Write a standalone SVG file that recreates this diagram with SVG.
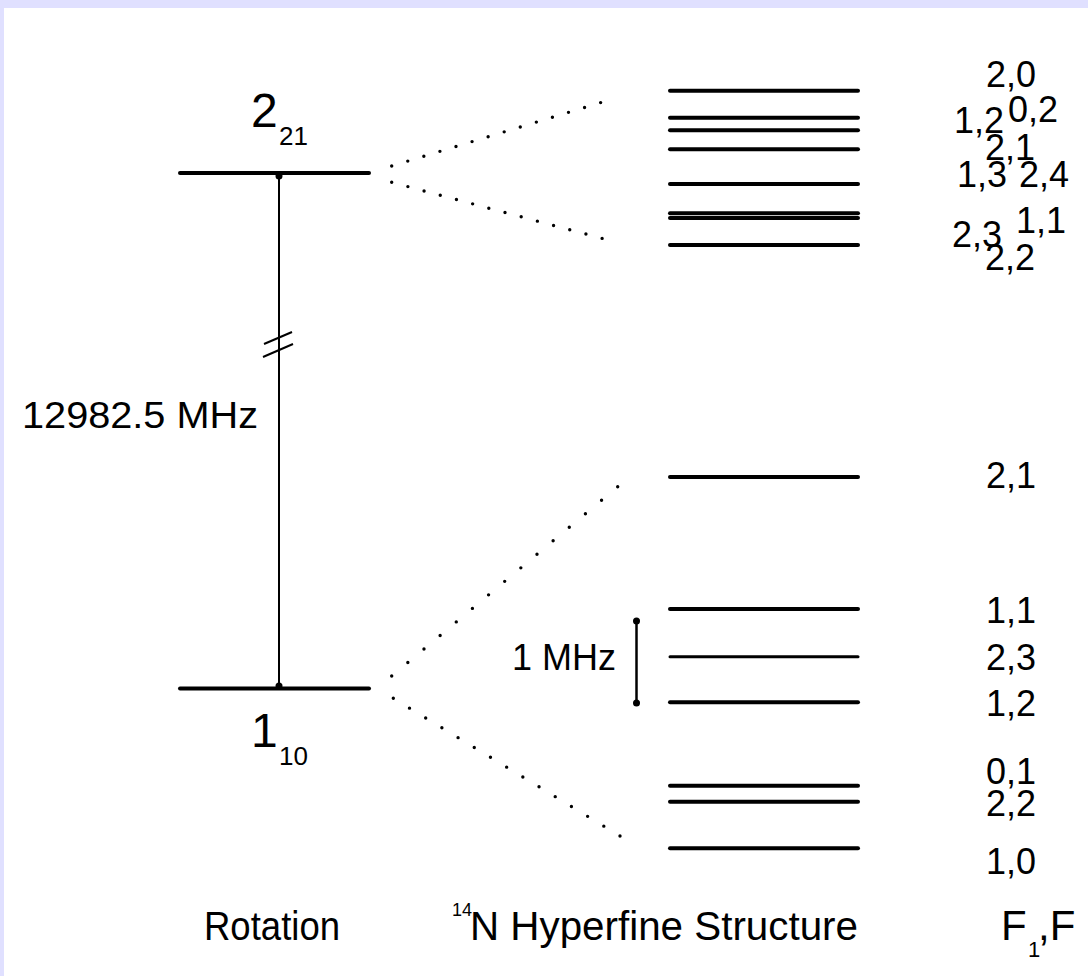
<svg xmlns="http://www.w3.org/2000/svg" width="1088" height="976" viewBox="0 0 1088 976">
<style>
text{font-family:"Liberation Sans",Arial,sans-serif;fill:#000}
.lvl{stroke:#000;stroke-width:4;stroke-linecap:round}
.hf{stroke:#000;stroke-width:4;stroke-linecap:round}
.dot{stroke:#000;stroke-width:3.4;stroke-linecap:round;stroke-dasharray:0 1;fill:none}
.lab{font-size:36px}
.big{font-size:48px}
.sub{font-size:26px}
.cap{font-size:40px}
</style>
<rect x="0" y="0" width="1088" height="976" fill="#E0E0FF"/>
<rect x="4" y="8" width="1084" height="968" fill="#FFFFFF"/>

<g id="rot-upper">
<line class="lvl" x1="180" y1="173" x2="369" y2="173"/>
<text class="big" x="251" y="127">2</text>
<text class="sub" x="279" y="145">21</text>
</g>
<g id="rot-lower">
<line class="lvl" x1="180" y1="688.5" x2="369" y2="688.5"/>
<text class="big" x="251" y="747">1</text>
<text class="sub" x="279" y="765">10</text>
</g>

<g id="connectors">
<line x1="279" y1="176" x2="279" y2="686" stroke="#000" stroke-width="2"/>
<circle cx="279" cy="176" r="3.5"/>
<circle cx="279" cy="686" r="3.5"/>
<line x1="264" y1="344" x2="292" y2="332" stroke="#000" stroke-width="2"/>
<line x1="263" y1="357" x2="293" y2="344" stroke="#000" stroke-width="2"/>
<path class="dot" pathLength="14" d="M391.7,166 L616.7,97.7"/>
<path class="dot" pathLength="14" d="M391.7,182.3 L618.3,242.7"/>
<path class="dot" pathLength="14" d="M391.7,676 L617.7,486.7"/>
<path class="dot" pathLength="14" d="M393.3,698.3 L620,836"/>
<line x1="636.5" y1="621" x2="636.5" y2="703" stroke="#000" stroke-width="2.5"/>
<circle cx="636.5" cy="621" r="3.5"/>
<circle cx="636.5" cy="703" r="3.5"/>
</g>

<g id="freq-label">
<text class="lab" x="22" y="428" textLength="236" lengthAdjust="spacingAndGlyphs">12982.5 MHz</text>
</g>
<g id="mhz-label">
<text class="lab" x="512" y="670">1 MHz</text>
</g>

<g id="hf-upper">
<line class="hf" x1="670" y1="90.7" x2="858" y2="90.7"/>
<line class="hf" x1="670" y1="117.7" x2="858" y2="117.7"/>
<line class="hf" x1="670" y1="130.3" x2="858" y2="130.3"/>
<line class="hf" x1="670" y1="149.3" x2="858" y2="149.3"/>
<line class="hf" x1="670" y1="184" x2="858" y2="184"/>
<line class="hf" x1="670" y1="213.3" x2="858" y2="213.3"/>
<line class="hf" x1="670" y1="217.9" x2="858" y2="217.9"/>
<line class="hf" x1="670" y1="245" x2="858" y2="245"/>
</g>
<g id="hf-lower">
<line class="hf" x1="670" y1="477" x2="858" y2="477"/>
<line class="hf" x1="670" y1="609" x2="858" y2="609"/>
<line class="hf" x1="670" y1="656.7" x2="858" y2="656.7" style="stroke-width:3"/>
<line class="hf" x1="670" y1="702.3" x2="858" y2="702.3"/>
<line class="hf" x1="670" y1="785.7" x2="858" y2="785.7"/>
<line class="hf" x1="670" y1="801.7" x2="858" y2="801.7"/>
<line class="hf" x1="670" y1="848.3" x2="858" y2="848.3"/>
</g>

<g id="labels-upper">
<text class="lab" x="986" y="87">2,0</text>
<text class="lab" x="954" y="133">1,2</text>
<text class="lab" x="1008" y="122">0,2</text>
<text class="lab" x="985" y="160">2,1</text>
<text class="lab" x="957" y="187">1,3</text>
<text class="lab" x="1019" y="187">2,4</text>
<text class="lab" x="952" y="247">2,3</text>
<text class="lab" x="1016" y="233">1,1</text>
<text class="lab" x="985" y="270">2,2</text>
</g>
<g id="labels-lower">
<text class="lab" x="986" y="488">2,1</text>
<text class="lab" x="986" y="623">1,1</text>
<text class="lab" x="986" y="670">2,3</text>
<text class="lab" x="986" y="716">1,2</text>
<text class="lab" x="986" y="784">0,1</text>
<text class="lab" x="986" y="816">2,2</text>
<text class="lab" x="986" y="874">1,0</text>
</g>

<g id="titles">
<text class="cap" x="204" y="940" textLength="136" lengthAdjust="spacingAndGlyphs">Rotation</text>
<text x="452" y="916" style="font-size:18px">14</text>
<text class="cap" x="470" y="940" textLength="388" lengthAdjust="spacingAndGlyphs">N Hyperfine Structure</text>
<text x="1001" y="940" style="font-size:42px">F</text>
<text x="1028" y="957" style="font-size:22px">1</text>
<text x="1038" y="940" style="font-size:42px">,F</text>
</g>
</svg>
